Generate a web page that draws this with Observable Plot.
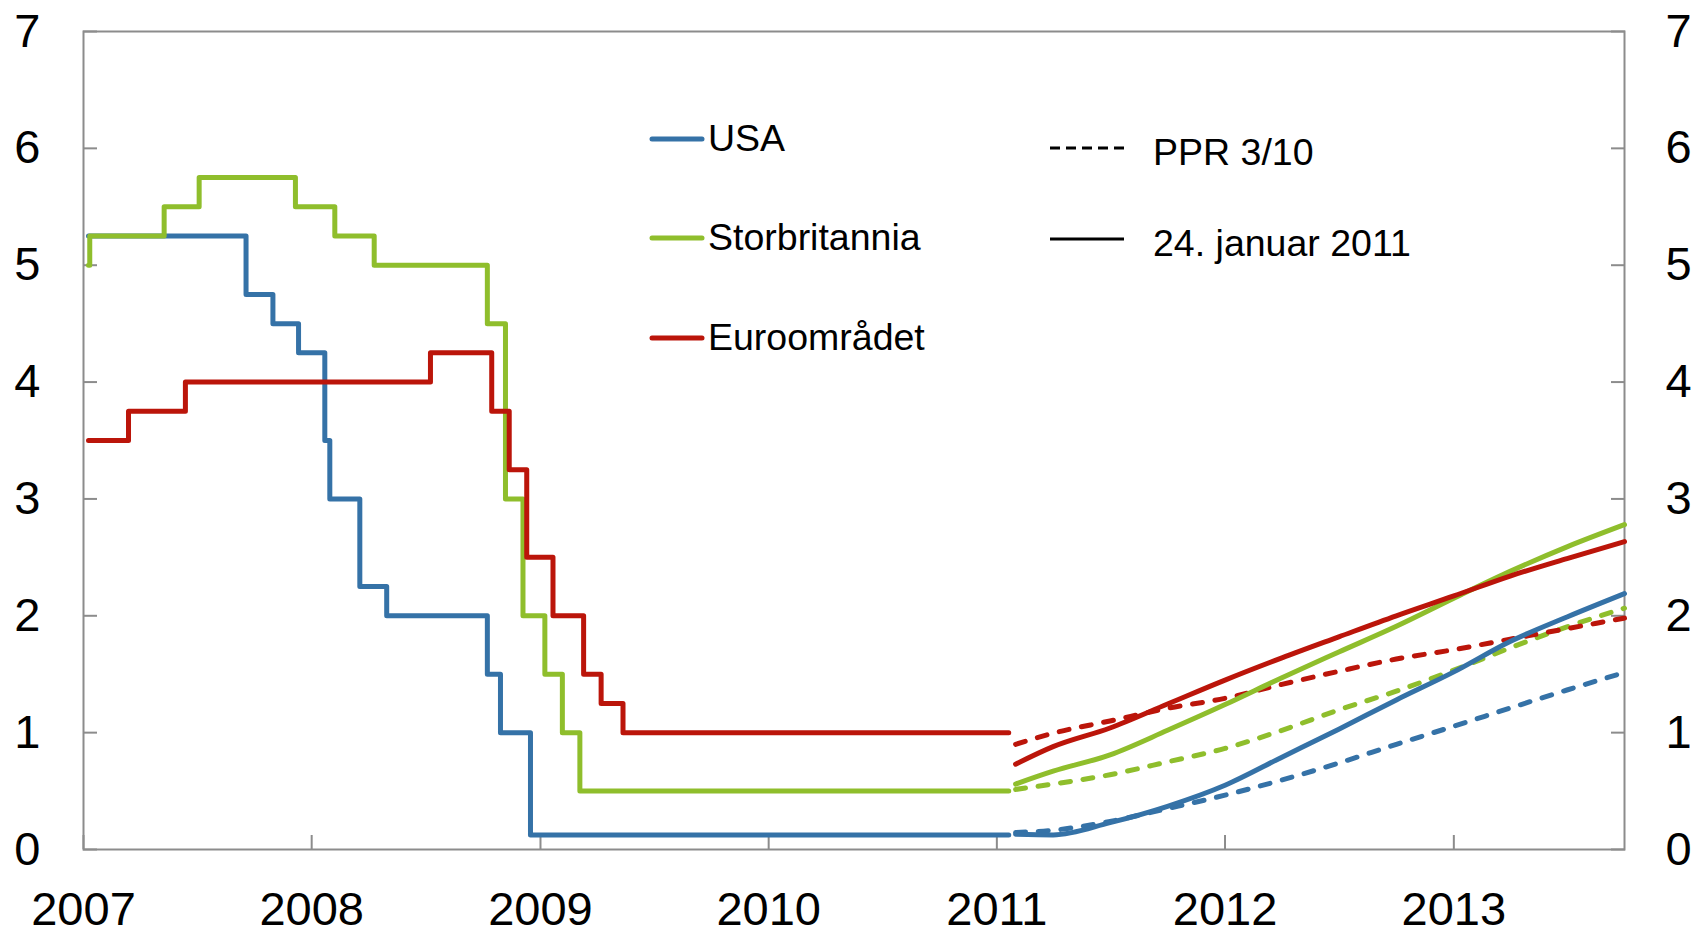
<!DOCTYPE html>
<html>
<head>
<meta charset="utf-8">
<script src="https://cdn.jsdelivr.net/npm/d3@7"></script>
<script src="https://cdn.jsdelivr.net/npm/@observablehq/plot@0.6"></script>
<style>
  html, body { margin: 0; padding: 0; background: #fff; }
  #wrap { position: relative; width: 1694px; height: 928px; font-family: "Liberation Sans", Arial, sans-serif; color: #000; }
  #legend { position: absolute; left: 0; top: 0; pointer-events: none; }
</style>
</head>
<body>
<div id="wrap"></div>
<script>
// ---- Data ----
const seriesNames = ["USA", "Storbritannia", "Euroområdet"];
const seriesColors = ["#3572a7", "#8fbe2c", "#bb150a"];

// Policy rates (step data)
const usaDates = ["2007-01-09","2007-09-18","2007-10-31","2007-12-11","2008-01-22","2008-01-30","2008-03-18","2008-04-30","2008-10-08","2008-10-29","2008-12-16","2011-01-20"];
const usaRates = [5.25, 4.75, 4.5, 4.25, 3.5, 3.0, 2.25, 2.0, 1.5, 1.0, 0.125, 0.125];

const ukDates = ["2007-01-09","2007-01-11","2007-05-10","2007-07-05","2007-12-06","2008-02-07","2008-04-10","2008-10-08","2008-11-06","2008-12-04","2009-01-08","2009-02-05","2009-03-05","2011-01-20"];
const ukRates = [5.0, 5.25, 5.5, 5.75, 5.5, 5.25, 5.0, 4.5, 3.0, 2.0, 1.5, 1.0, 0.5, 0.5];

const euDates = ["2007-01-09","2007-03-14","2007-06-13","2008-07-09","2008-10-15","2008-11-12","2008-12-10","2009-01-21","2009-03-11","2009-04-08","2009-05-13","2011-01-20"];
const euRates = [3.5, 3.75, 4.0, 4.25, 3.75, 3.25, 2.5, 2.0, 1.5, 1.25, 1.0, 1.0];

// Forward rates
const fwdDates = ["2011-01-31","2011-04-01","2011-07-01","2011-10-01","2012-01-01","2012-04-01","2012-07-01","2012-10-01","2013-01-01","2013-04-01","2013-07-01","2013-10-01"];
// 24. januar 2011 (solid)
const usaJan = [0.13, 0.125, 0.23, 0.37, 0.55, 0.79, 1.03, 1.28, 1.52, 1.78, 1.99, 2.19];
const ukJan  = [0.56, 0.67, 0.81, 1.02, 1.24, 1.47, 1.69, 1.91, 2.15, 2.38, 2.59, 2.78];
const euJan  = [0.73, 0.88, 1.04, 1.245, 1.45, 1.64, 1.82, 2.0, 2.17, 2.34, 2.49, 2.635];
// PPR 3/10 (dashed)
const usaPpr = [0.145, 0.165, 0.24, 0.35, 0.465, 0.595, 0.74, 0.90, 1.055, 1.21, 1.365, 1.515];
const ukPpr  = [0.514, 0.56, 0.64, 0.75, 0.865, 1.02, 1.195, 1.355, 1.535, 1.725, 1.905, 2.065];
const euPpr  = [0.90, 0.995, 1.10, 1.208, 1.294, 1.413, 1.525, 1.63, 1.71, 1.80, 1.89, 1.98];

const yTicks = [0, 1, 2, 3, 4, 5, 6, 7];
const xTickYears = [2007, 2008, 2009, 2010, 2011, 2012, 2013];
const xDomain = ["2007-01-01", "2013-10-01"];

const legendSeries = ["USA", "Storbritannia", "Euroområdet"];
const legendStyles = ["PPR 3/10", "24. januar 2011"];

// ---- Build tables ----
const parse = d3.utcParse("%Y-%m-%d");
const zip = (dates, vals) => dates.map((d, i) => ({date: parse(d), value: vals[i]}));
const hist = [zip(usaDates, usaRates), zip(ukDates, ukRates), zip(euDates, euRates)];
const jan = [zip(fwdDates, usaJan), zip(fwdDates, ukJan), zip(fwdDates, euJan)];
const ppr = [zip(fwdDates, usaPpr), zip(fwdDates, ukPpr), zip(fwdDates, euPpr)];
const xTicks = xTickYears.map(y => new Date(Date.UTC(y, 0, 1)));

const gray = "#8c8c8c";
const W = 1694, H = 928;
const M = {left: 83, right: 70, top: 31, bottom: 79};
const LW = 5;
const FONT = '"Liberation Sans", Arial, sans-serif';

const marks = [
  Plot.frame({stroke: gray, strokeWidth: 2}),
  // ticks pointing inward
  Plot.axisY({anchor: "left", ticks: yTicks, tickSize: 14, dx: 14, tickFormat: () => "", stroke: gray, strokeWidth: 2, label: null}),
  Plot.axisY({anchor: "right", ticks: yTicks, tickSize: 14, dx: -14, tickFormat: () => "", stroke: gray, strokeWidth: 2, label: null}),
  Plot.axisX({anchor: "bottom", ticks: xTicks, tickSize: 14, dy: -14, tickFormat: () => "", stroke: gray, strokeWidth: 2, label: null}),
  // labels
  Plot.axisY({anchor: "left", ticks: yTicks, tickSize: 0, tickPadding: 43, fontSize: 47, tickFormat: d => String(d), label: null}),
  Plot.axisY({anchor: "right", ticks: yTicks, tickSize: 0, tickPadding: 41, fontSize: 47, tickFormat: d => String(d), label: null}),
  Plot.axisX({anchor: "bottom", ticks: xTicks, tickSize: 0, tickPadding: 42, fontSize: 47, tickFormat: d => String(d.getUTCFullYear()), label: null}),
];
// order: USA, UK, Euro
for (let i = 0; i < 3; i++) {
  marks.push(Plot.line(hist[i], {x: "date", y: "value", curve: "step-after", stroke: seriesColors[i], strokeWidth: LW, strokeLinejoin: "round", strokeLinecap: "round"}));
}
for (let i = 0; i < 3; i++) {
  marks.push(Plot.line(ppr[i], {x: "date", y: "value", curve: "monotone-x", stroke: seriesColors[i], strokeWidth: LW, strokeDasharray: "10,12.7", strokeLinecap: "round"}));
}
for (let i = 0; i < 3; i++) {
  marks.push(Plot.line(jan[i], {x: "date", y: "value", curve: "monotone-x", stroke: seriesColors[i], strokeWidth: LW, strokeLinecap: "round"}));
}

const chart = Plot.plot({
  width: W,
  height: H,
  marginLeft: M.left,
  marginRight: M.right,
  marginTop: M.top,
  marginBottom: M.bottom,
  style: {fontFamily: FONT, color: "#000", background: "#fff", overflow: "visible"},
  x: {type: "utc", domain: xDomain.map(parse)},
  y: {domain: [0, 7]},
  marks
});
const wrap = document.getElementById("wrap");
wrap.appendChild(chart);

// ---- Legend overlay ----
const lg = d3.select(wrap).append("svg")
  .attr("id", "legend").attr("width", W).attr("height", H)
  .style("font-family", FONT);

const serRowY = [139, 238, 338];
legendSeries.forEach((name, i) => {
  lg.append("line").attr("x1", 652).attr("x2", 702).attr("y1", serRowY[i]).attr("y2", serRowY[i])
    .attr("stroke", seriesColors[i]).attr("stroke-width", LW).attr("stroke-linecap", "round");
  lg.append("text").attr("x", 708).attr("y", serRowY[i] + 12).attr("font-size", 37.5).attr("fill", "#000").text(name);
});
const styRowY = [148, 239];
const styDash = ["10,6", null];
legendStyles.forEach((name, i) => {
  const l = lg.append("line").attr("x1", 1050).attr("x2", 1124).attr("y1", styRowY[i]).attr("y2", styRowY[i])
    .attr("stroke", "#000").attr("stroke-width", 3);
  if (styDash[i]) l.attr("stroke-dasharray", styDash[i]);
  lg.append("text").attr("x", 1153).attr("y", styRowY[i] + 17).attr("font-size", 37.5).attr("fill", "#000").text(name);
});
</script>
</body>
</html>
